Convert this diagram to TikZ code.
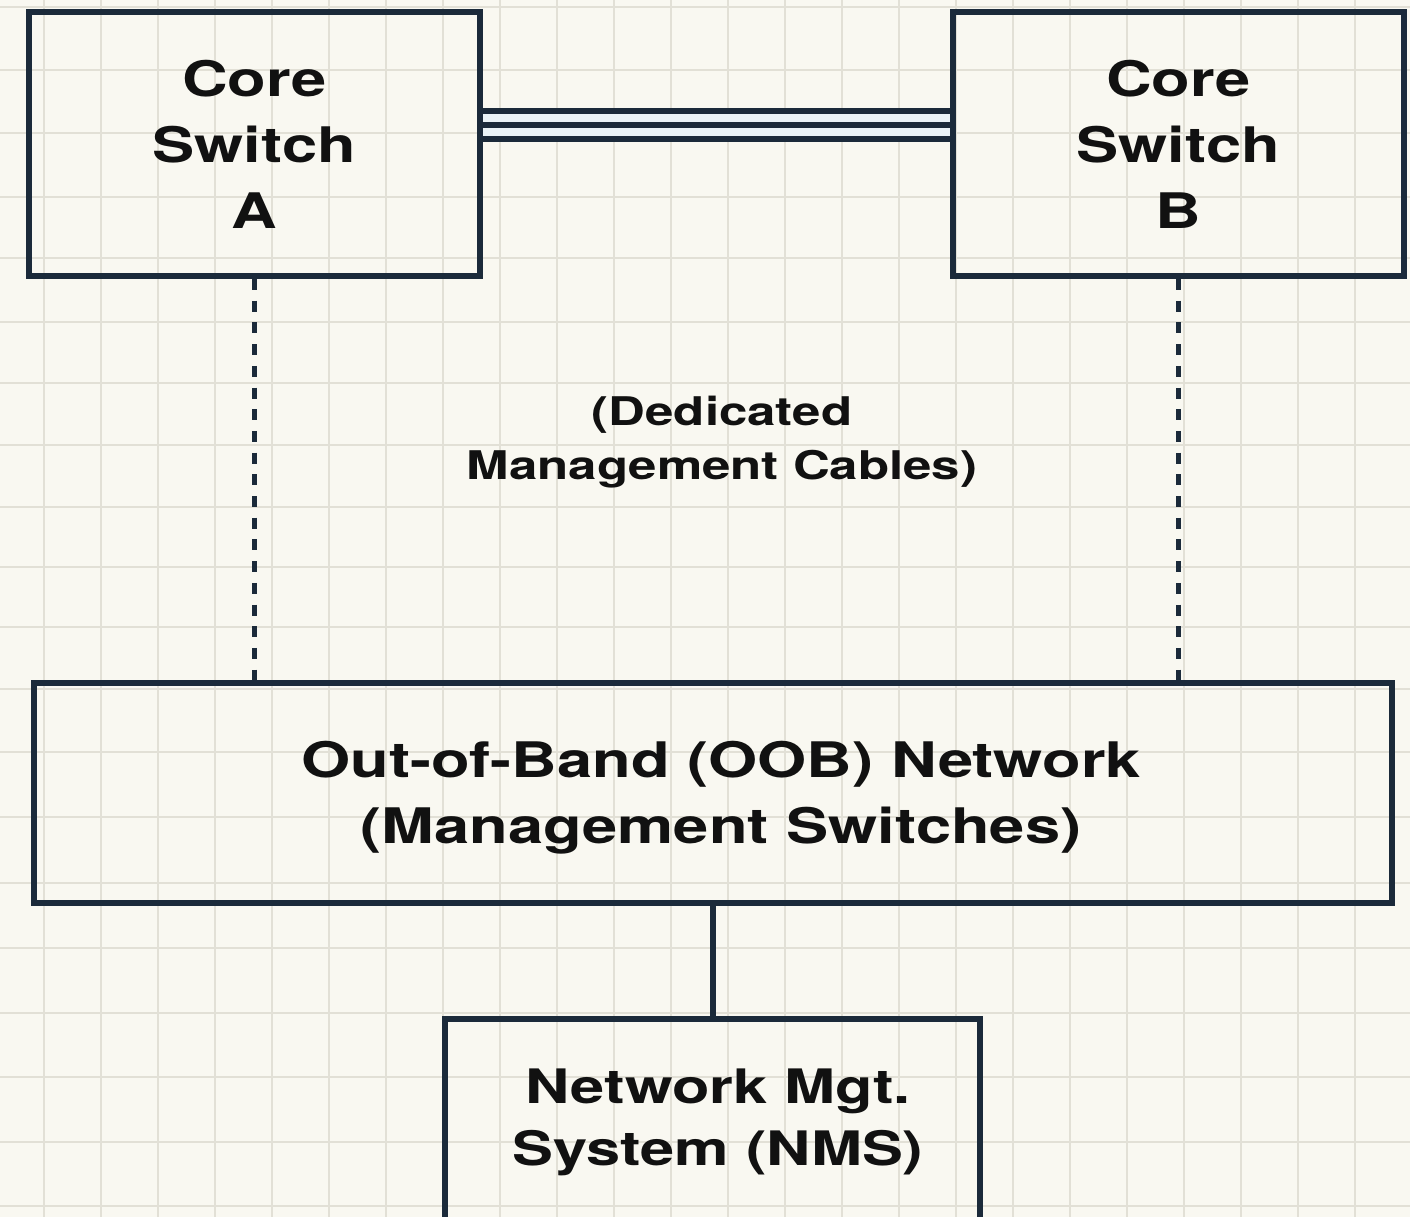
\documentclass[tikz,border=0pt]{standalone}
\usepackage{fontspec}
\setmainfont{TeX Gyre Heros}[FakeStretch=1.29]
\definecolor{paper}{HTML}{F9F8F1}
\definecolor{gridc}{HTML}{E2E0D6}
\definecolor{navy}{HTML}{1B2A3A}
\definecolor{ink}{HTML}{111111}
\definecolor{gapc}{HTML}{EAF3F7}
\begin{document}
\begin{tikzpicture}[x=1pt,y=-1pt,
  gridline/.style={draw=gridc, line width=2pt},
  box/.style={draw=navy, line width=6pt, inner sep=0pt, align=center,
    text=ink, font=\bfseries\fontsize{49}{66}\selectfont},
  txt/.style={inner sep=0pt, align=center, text=ink},
  trunk/.style={draw=navy, line width=6pt},
  mgmt/.style={draw=navy, line width=5pt, dash pattern=on 11pt off 10.7pt},
  uplink/.style={draw=navy, line width=6pt}]
\useasboundingbox (0,0) rectangle (1410,1217);
\clip (0,0) rectangle (1410,1217);
\fill[paper] (0,0) rectangle (1410,1217);
% grid
\foreach \gx in {0,...,23} \draw[gridline] ({44+57*\gx},0) -- ({44+57*\gx},1217);
\foreach \gy in {7,70,133,197,258,322,383,445,507,567,627,689,752,817,883,948,1013,1077,1142,1206}
  \draw[gridline] (0,\gy) -- (1410,\gy);
% boxes
\node[box, minimum width=451pt, minimum height=264pt] (A) at (254.5,144) {Core\\Switch\\A};
\node[box, minimum width=451pt, minimum height=264pt] (B) at (1178.5,144) {Core\\Switch\\B};
\node[box, minimum width=1358pt, minimum height=220pt] (oob) at (713,793) {};
\node[txt, font=\bfseries\fontsize{49}{66}\selectfont] (oobtext) at (721,798)
  {Out-of-Band (OOB) Network\\(Management Switches)};
\node[box, minimum width=535pt, minimum height=300pt, anchor=north] (nms) at (712.5,1016) {};
\node[txt, font=\bfseries\fontsize{47.5}{62}\selectfont] (nmstext) at (718,1122)
  {Network Mgt.\\System (NMS)};
\node[txt, font=\bfseries\fontsize{39.5}{54}\selectfont] (cables) at (722,442)
  {(Dedicated\\Management Cables)};
% trunk between core switches
\fill[gapc] ([yshift=33pt]A.east) rectangle ([yshift=5pt]B.west);
\draw[trunk] ([yshift=33pt]A.east) -- ([yshift=33pt]B.west);
\draw[trunk] ([yshift=19pt]A.east) -- ([yshift=19pt]B.west);
\draw[trunk] ([yshift=5pt]A.east) -- ([yshift=5pt]B.west);
% management cables
\draw[mgmt] (A.south) -- (A.south |- oob.north);
\draw[mgmt] (B.south) -- (B.south |- oob.north);
% uplink to NMS
\draw[uplink] (oob.south -| nms.north) -- (nms.north);
\end{tikzpicture}
\end{document}
